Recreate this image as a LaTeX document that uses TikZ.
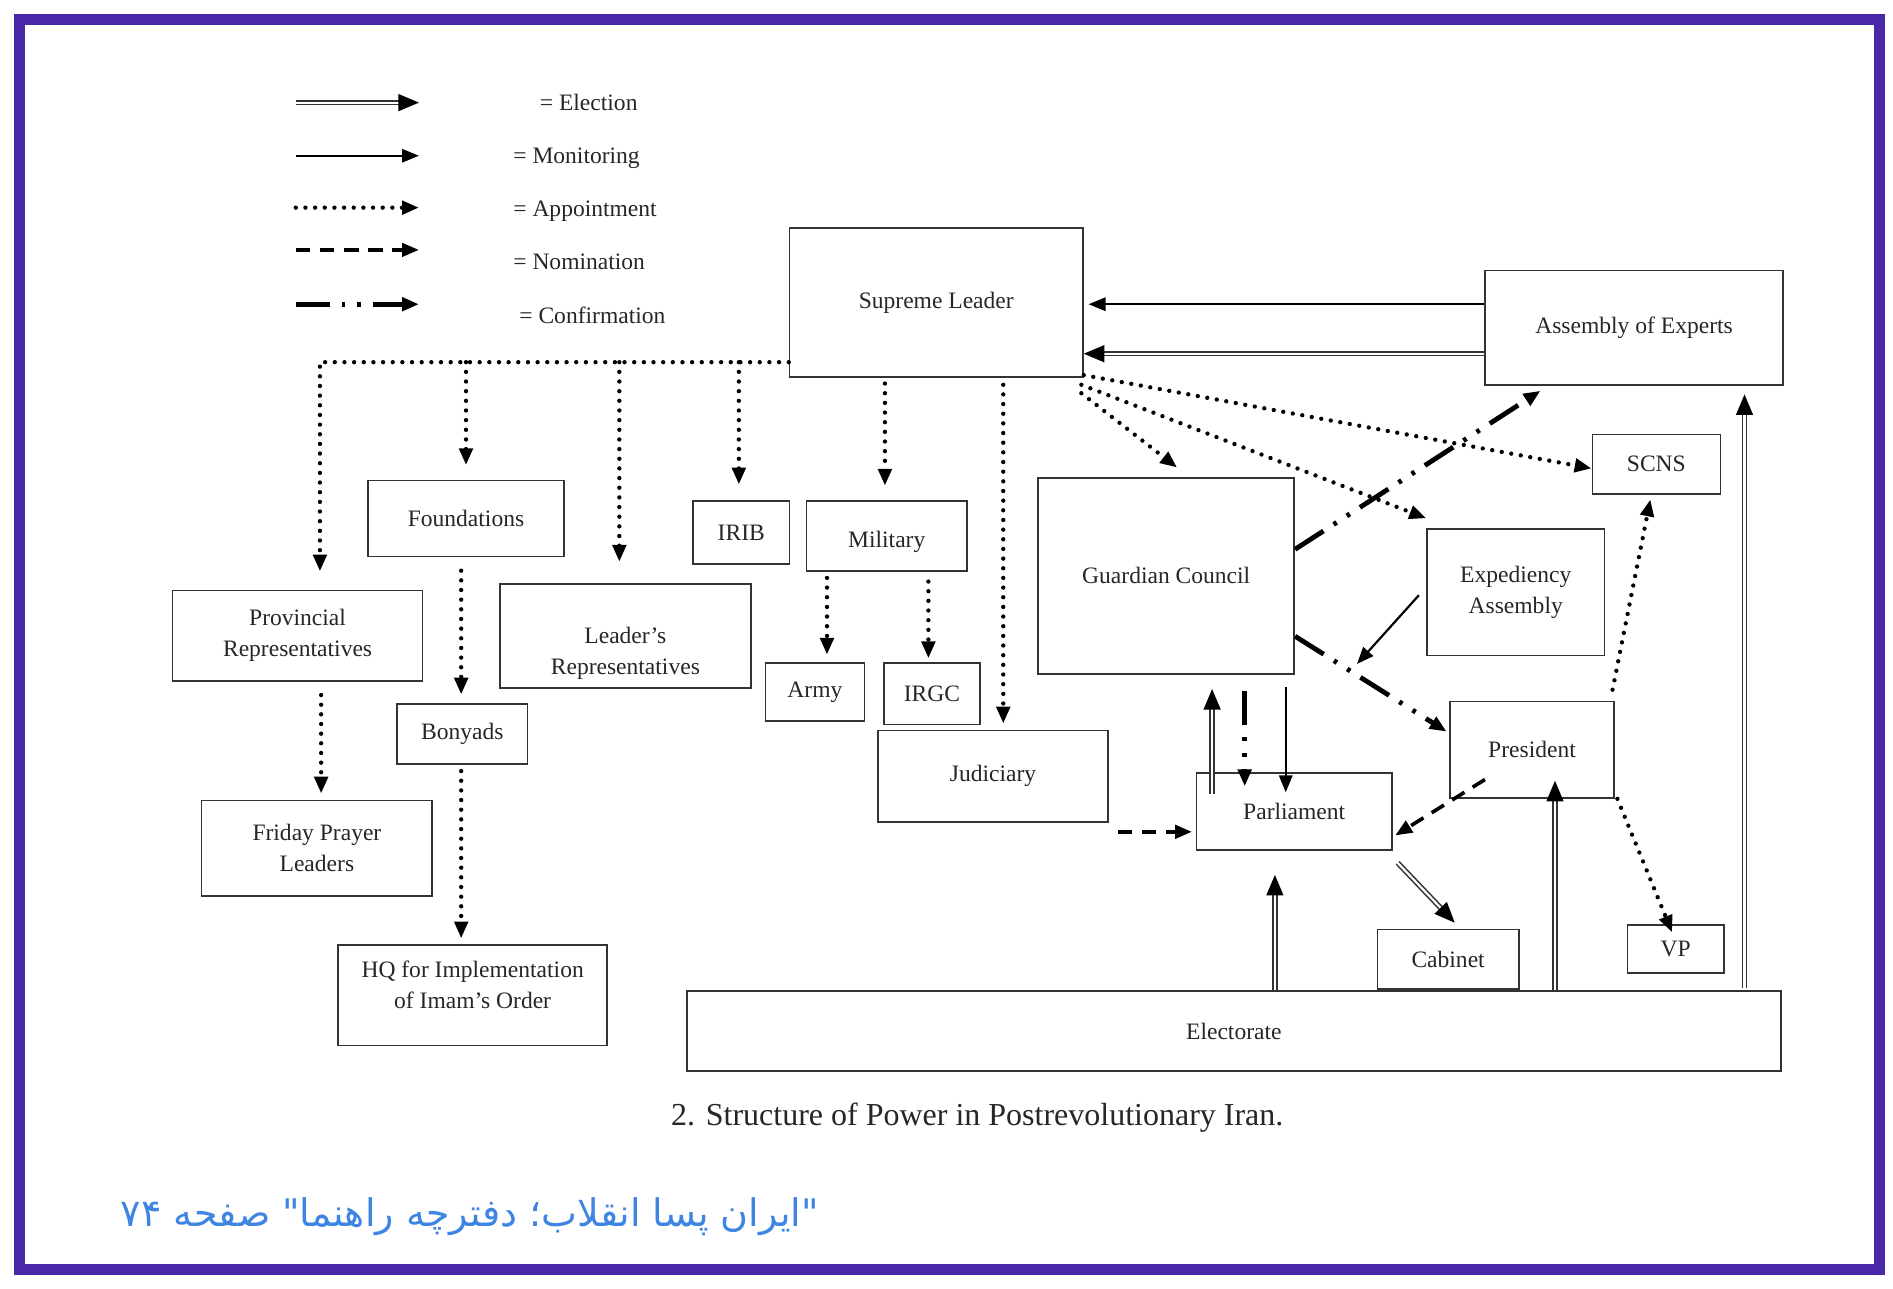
\documentclass[tikz,border=0pt]{standalone}
\usepackage{fontspec}
\setmainfont{Liberation Serif}
\newfontfamily\arabicfont[Script=Arabic]{DejaVu Sans}
\TeXXeTstate=1
\usepackage{tikz}
\usetikzlibrary{arrows.meta,calc}
\definecolor{framepurple}{RGB}{74,40,170}
\definecolor{noteblue}{RGB}{62,132,226}

\tikzset{
  box/.style={draw=black!80, line width=1.4pt, inner sep=0pt, align=center,
    text=black!85, font=\fontsize{19.5}{26}\selectfont},
  boxlabel/.style={align=center, text=black!85, font=\fontsize{19.5}{26}\selectfont},
  legend/.style={anchor=west, inner sep=0pt, text=black!85, font=\fontsize{19.5}{24}\selectfont},
  tip/.style={-{Triangle[length=14pt,width=11pt]}},
  monitor/.style={tip, line width=1.8pt},
  elect/.style={-{Triangle[length=17pt,width=14pt,color=black]}, draw=black!80,
    line width=1.3pt, double=white, double distance=1.8pt},
  appoint/.style={tip, line width=3.6pt, line cap=round, dash pattern=on 0pt off 8pt},
  nominate/.style={tip, line width=3pt, dash pattern=on 12pt off 8pt},
  confirm/.style={tip, line width=4pt, dash pattern=on 28pt off 10pt on 3pt off 10pt on 3pt off 10pt},
}

\begin{document}
\begin{tikzpicture}[x=1pt, y=-1pt]
  \useasboundingbox (0,0) rectangle (1568,1067);
  \draw[framepurple, line width=9pt] (16.1,16.1) rectangle (1557,1051.5);

  % legend
  \node[legend] (lgelect) at (447,85) {= Election};
  \node[legend] (lgmonitor) at (425,131) {= Monitoring};
  \node[legend] (lgappoint) at (425,175) {= Appointment};
  \node[legend] (lgnominate) at (425,217) {= Nomination};
  \node[legend] (lgconfirm) at (430,261) {= Confirmation};
  \draw[elect] ($(lgelect.west)+(-202,0)$) -- ++(102,0);
  \draw[monitor] ($(lgmonitor.west)+(-180,-2)$) -- ++(102,0);
  \draw[appoint] ($(lgappoint.west)+(-180,-3)$) -- ++(102,0);
  \draw[nominate] ($(lgnominate.west)+(-180,-10)$) -- ++(102,0);
  \draw[confirm] ($(lgconfirm.west)+(-185,-9)$) -- ++(102,0);

  % offices
  \node[box, minimum width=243, minimum height=123] (sl) at (775.5,250.5) {Supreme Leader};
  \node[box, minimum width=247, minimum height=95] (aoe) at (1353.5,271.5) {Assembly of Experts};
  \node[box, minimum width=106, minimum height=49] (scns) at (1372,384.5) {SCNS};
  \node[box, minimum width=212, minimum height=162] (gc) at (966,477) {Guardian Council};
  \node[box, minimum width=147, minimum height=105] (ea) at (1255.5,490.5) {Expediency\\Assembly};
  \node[box, minimum width=136, minimum height=80] (pres) at (1269,621) {President};
  \node[box, minimum width=162, minimum height=64] (parl) at (1072,672) {Parliament};
  \node[box, minimum width=117, minimum height=49] (cab) at (1199.5,794.5) {Cabinet};
  \node[box, minimum width=80, minimum height=40] (vp) at (1388,786) {VP};
  \node[box, minimum width=906, minimum height=66] (elec) at (1022,854) {Electorate};
  \node[box, minimum width=191, minimum height=76] (jud) at (822.5,643) {Judiciary};
  \node[box, minimum width=80, minimum height=52] (irib) at (614,441) {IRIB};
  \node[box, minimum width=133, minimum height=58,
    label={[boxlabel, yshift=-5pt]center:Military}] (mil) at (734.5,444) {};
  \node[box, minimum width=82, minimum height=48] (army) at (675,573) {Army};
  \node[box, minimum width=80, minimum height=51] (irgc) at (772,574.5) {IRGC};
  \node[box, minimum width=162, minimum height=63] (found) at (386,429.5) {Foundations};
  \node[box, minimum width=208, minimum height=86,
    label={[boxlabel, yshift=-14pt]center:Leader’s\\Representatives}] (lreps) at (518,527) {};
  \node[box, minimum width=207, minimum height=75] (prov) at (246.5,526.5) {Provincial\\Representatives};
  \node[box, minimum width=108, minimum height=50] (bony) at (383,608) {Bonyads};
  \node[box, minimum width=191, minimum height=79] (fri) at (262.5,702.5) {Friday Prayer\\Leaders};
  \node[box, minimum width=223, minimum height=83,
    label={[boxlabel, yshift=9pt]center:HQ for Implementation\\of Imam’s Order}] (hq) at (391.5,824.5) {};

  % appointments
  \coordinate (split) at ($(sl.west)+(0,49.5)$);
  \draw[appoint] (split) -| ($(prov.north)+(18.5,-15)$);
  \draw[appoint] (split -| found.north) -- ($(found.north)+(0,-12)$);
  \draw[appoint] ($(split -| lreps.north)+(-5,0)$) -- ($(lreps.north)+(-5,-18)$);
  \draw[appoint] ($(split -| irib.north)+(-2,0)$) -- ($(irib.north)+(-2,-13)$);
  \draw[appoint] ($(sl.south)+(-42.5,5)$) -- ($(mil.north)+(-1.5,-12)$);
  \draw[appoint] ($(sl.south)+(55.5,6)$) -- ($(jud.north)+(8.5,-5)$);
  \draw[appoint] ($(sl.south east)+(-2,13)$) -- ($(gc.north)+(9,-8)$);
  \draw[appoint] ($(sl.south east)+(-2,6)$) -- ($(ea.north west)+(0,-8)$);
  \draw[appoint] ($(sl.south east)+(0,-2)$) -- ($(scns.west)+(0,3.5)$);
  \draw[appoint] ($(mil.south)+(-49.5,5)$) -- ($(army.north)+(10,-6)$);
  \draw[appoint] ($(mil.south)+(34.5,8)$) -- ($(irgc.north)+(-3,-3)$);
  \draw[appoint] ($(found.south)+(-4,11)$) -- ($(bony.north)+(-1,-7)$);
  \draw[appoint] ($(bony.south)+(-1,5)$) -- ($(hq.north)+(-9.5,-5)$);
  \draw[appoint] ($(prov.south)+(19.5,11)$) -- ($(fri.north)+(3.5,-5)$);
  \draw[appoint] ($(pres.north east)+(-2,-9)$) -- ($(scns.south)+(-5,4)$);
  \draw[appoint] ($(pres.south east)+(2,0)$) -- ($(vp.north)+(-3,7)$);

  % confirmations
  \draw[confirm] ($(gc.east)+(0,-22)$) -- ($(aoe.south)+(-77.5,4)$);
  \draw[confirm] ($(gc.east)+(0,50)$) -- ($(pres.west)+(-2,-15)$);
  \draw[confirm] ($(gc.south)+(65,14)$) -- ($(parl.north)+(-41,12)$);

  % elections
  \draw[elect] ($(aoe.west)+(0,21.5)$) -- ($(sl.east)+(0,42.5)$);
  \draw[elect] ($(parl.north)+(-68,18)$) -- ($(gc.south)+(38,12)$);
  \draw[elect] ($(parl.south east)+(4,10)$) -- ($(cab.north)+(5.5,-5)$);
  \draw[elect] ($(elec.north)+(34,0)$) -- ($(parl.south)+(-16,20)$);
  \draw[elect] ($(elec.north)+(266,0)$) -- ($(pres.south)+(19,-15)$);
  \draw[elect] ($(elec.north)+(423,-2)$) -- ($(aoe.south)+(91.5,7)$);

  % monitoring
  \draw[monitor] ($(aoe.west)+(0,-19.5)$) -- ($(sl.east)+(4,1.5)$);
  \draw[monitor] ($(gc.south)+(99,10)$) -- ($(parl.north)+(-7,17)$);
  \coordinate (eatip) at (1124,550);
  \draw[monitor] ($(ea.west)+(-6,2.5)$) -- (eatip);

  % nominations
  \draw[nominate] ($(jud.east)+(7,46)$) -- ($(parl.west)+(-3,17)$);
  \draw[nominate] ($(pres.south)+(-39,-16)$) -- ($(parl.east)+(2,20)$);

  % captions
  \node[text=black!85, font=\fontsize{26.5}{30}\selectfont] (caption) at (809.5,926)
    {2. Structure of Power in Postrevolutionary Iran.};
  \node[anchor=west, inner sep=0pt, text=noteblue, font=\arabicfont\fontsize{31.5}{36}\selectfont] (source) at (100,1008)
    {\beginR "ایران پسا انقلاب؛ دفترچه راهنما" صفحه \beginL ۷۴\endL\endR};
\end{tikzpicture}
\end{document}
